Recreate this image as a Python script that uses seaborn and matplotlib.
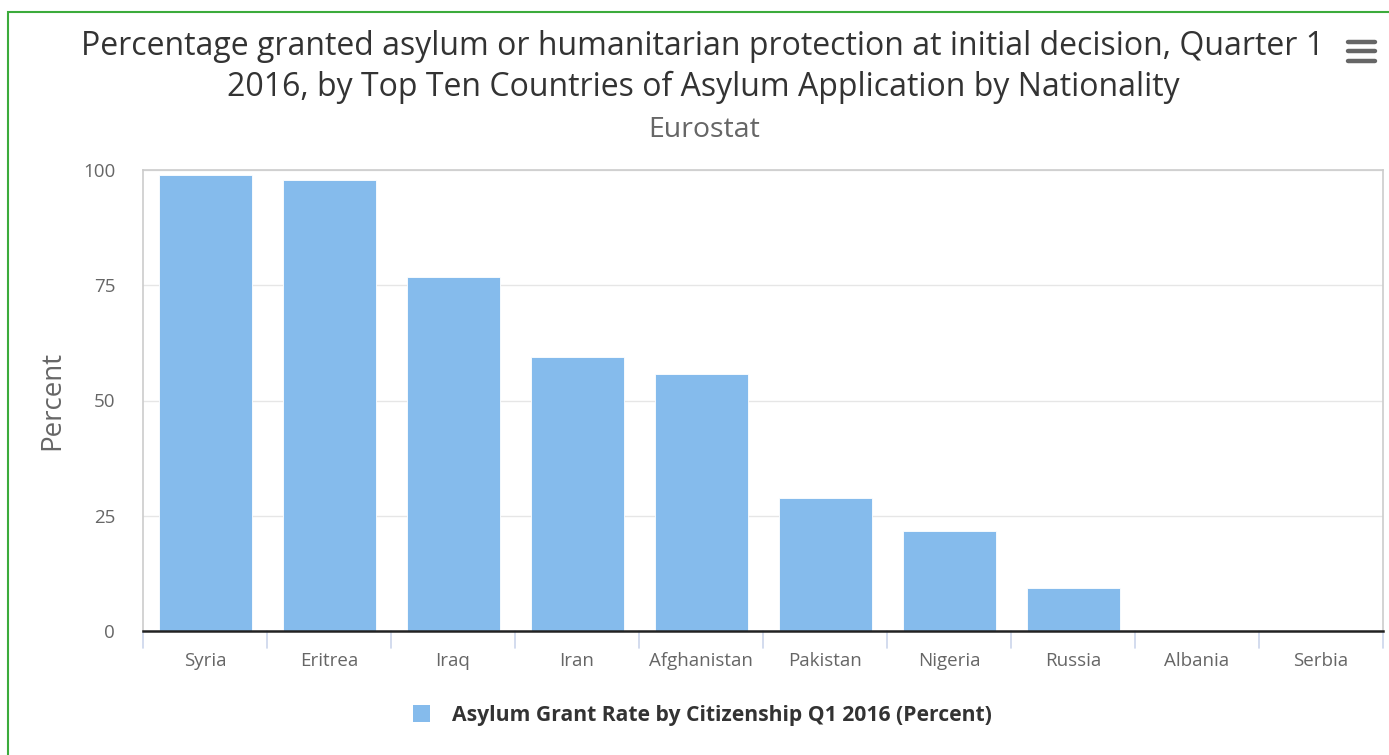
import matplotlib
matplotlib.use("Agg")
import matplotlib.pyplot as plt
from matplotlib.patches import Rectangle
import seaborn as sns
import pandas as pd

countries = ["Syria", "Eritrea", "Iraq", "Iran", "Afghanistan",
             "Pakistan", "Nigeria", "Russia", "Albania", "Serbia"]
grant_rate = [98.9, 97.8, 76.7, 59.5, 55.8, 28.8, 21.6, 9.4, 0.0, 0.0]
y_ticks = [0, 25, 50, 75, 100]
series_name = "Asylum Grant Rate by Citizenship Q1 2016 (Percent)"

title_text = ("Percentage granted asylum or humanitarian protection at initial decision, Quarter 1\n"
              "2016, by Top Ten Countries of Asylum Application by Nationality")
subtitle_text = "Eurostat"

df = pd.DataFrame({"country": countries, "rate": grant_rate})

sns.set_theme(style="white")
plt.rcParams["font.family"] = ["Open Sans", "DejaVu Sans"]

W, H = 1389, 755
fig = plt.figure(figsize=(W / 100, H / 100), dpi=100)

def fx(px):
    return px / W

def fy(py):
    return 1 - py / H

ax = fig.add_axes([fx(143), fy(631), fx(1383) - fx(143), fy(170) - fy(631)])

bar_color = "#85bbec"
sns.barplot(data=df, x="country", y="rate", color=bar_color, width=0.75,
            saturation=1, ax=ax, edgecolor="white", linewidth=0.6, zorder=3)

ax.set_ylim(0, 100)
ax.set_xlim(-0.5, len(countries) - 0.5)
ax.set_yticks(y_ticks)
ax.set_yticklabels([str(v) for v in y_ticks], color="#666666", fontsize=13.5)
ax.yaxis.grid(True, color="#e6e6e6", linewidth=1, zorder=0)
ax.tick_params(axis="y", length=0, pad=20)

# category labels centred, tick marks on category boundaries
ax.set_xticks(range(len(countries)))
ax.set_xticklabels(countries, color="#666666", fontsize=13.5)
ax.tick_params(axis="x", length=0, pad=15)
for b in [i - 0.5 for i in range(len(countries) + 1)]:
    ax.plot([b, b], [0, -0.037], transform=ax.get_xaxis_transform(),
            color="#ccd6eb", linewidth=1.2, clip_on=False, zorder=1)

ax.set_xlabel("")
ax.set_ylabel("Percent", color="#666666", fontsize=20, labelpad=12)

for side in ["left", "top", "right"]:
    ax.spines[side].set_color("#cccccc")
    ax.spines[side].set_linewidth(1.2)
ax.spines["bottom"].set_color("#222222")
ax.spines["bottom"].set_linewidth(1.8)
ax.spines["bottom"].set_zorder(5)

# title and subtitle
fig.text(fx(703), fy(67), title_text, ha="center", va="center",
         fontsize=23, color="#333333", linespacing=1.28)
fig.text(fx(704), fy(130), subtitle_text, ha="center", va="center",
         fontsize=20.5, color="#666666")

# legend
fig.patches.append(Rectangle((fx(413), fy(722)), fx(17), fy(705) - fy(722),
                             transform=fig.transFigure, facecolor=bar_color,
                             edgecolor="none"))
fig.text(fx(452), fy(716), series_name, ha="left", va="center",
         fontsize=15.2, fontweight="bold", color="#333333")

# menu icon
for yy in [42, 51, 61]:
    fig.add_artist(plt.Line2D([fx(1348), fx(1375)], [fy(yy), fy(yy)],
                              transform=fig.transFigure, color="#666666",
                              linewidth=3.2, solid_capstyle="round"))

# outer border
fig.patches.append(Rectangle((fx(8), fy(H + 10)), fx(W + 10) - fx(8), fy(12) - fy(H + 10),
                             transform=fig.transFigure, facecolor="none",
                             edgecolor="#3cab3c", linewidth=1.5))

fig.savefig("out.png", dpi=100, facecolor="white")
